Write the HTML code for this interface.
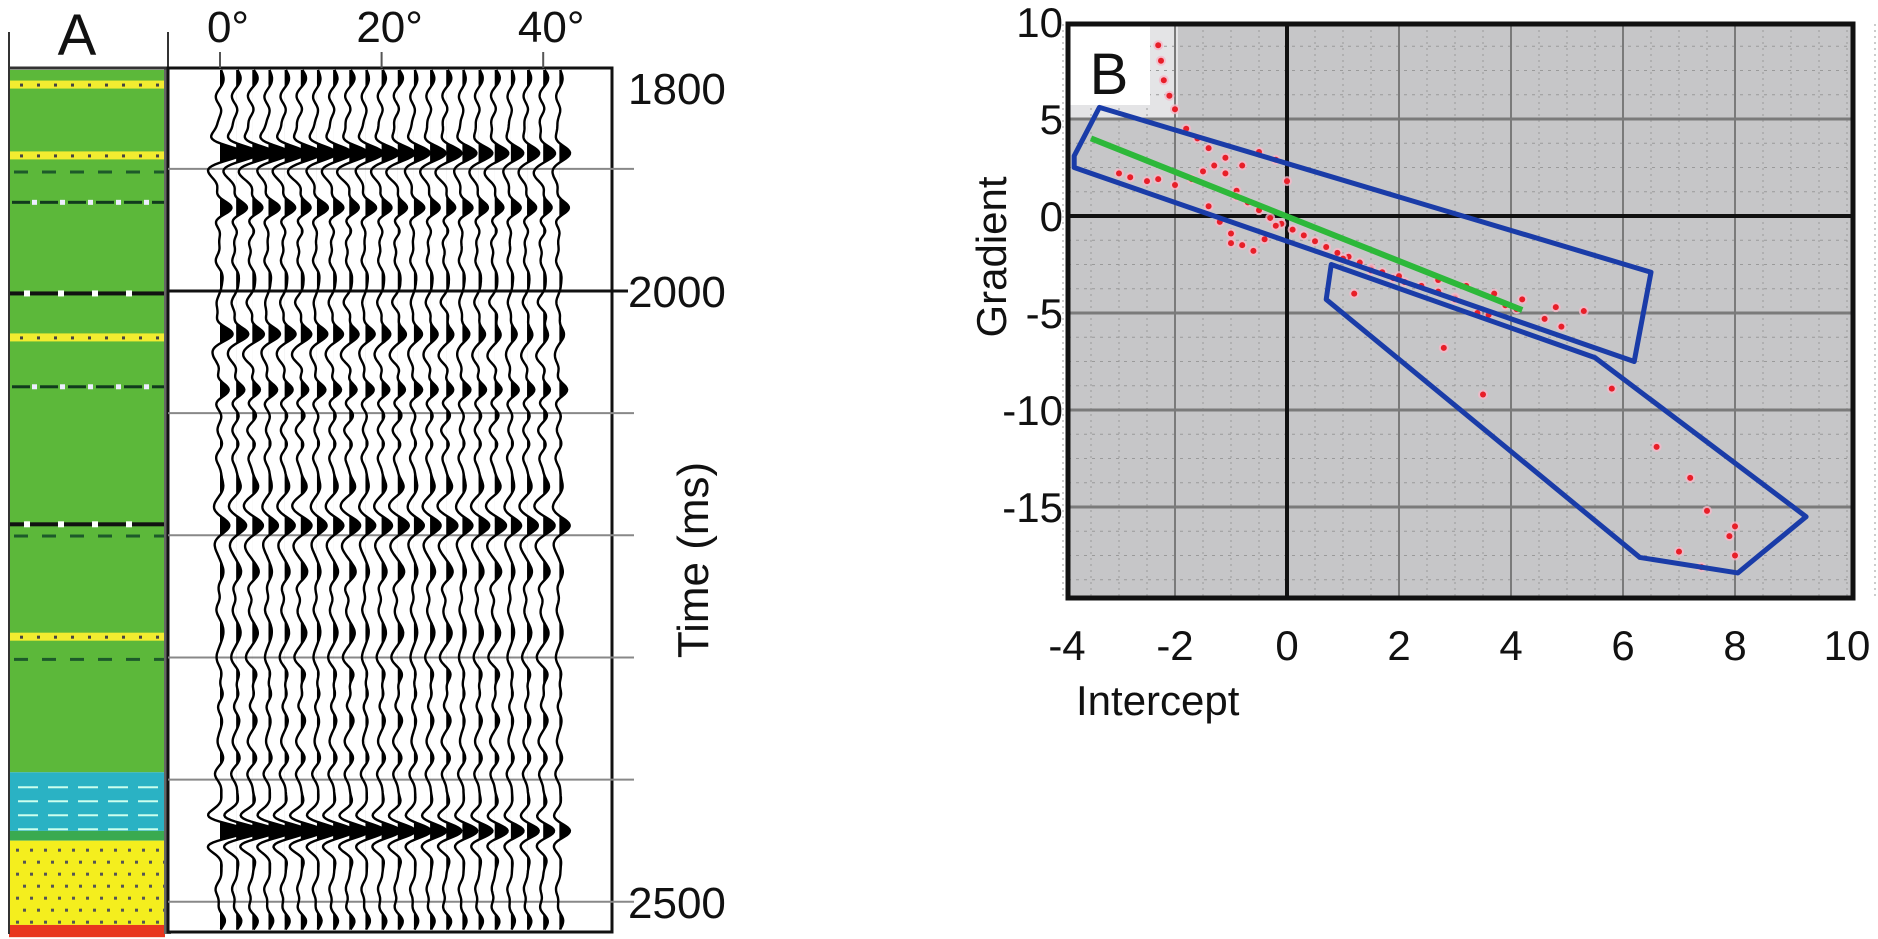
<!DOCTYPE html>
<html><head><meta charset="utf-8">
<style>
html,body{margin:0;padding:0;background:#fff;}
svg{display:block;font-family:"Liberation Sans",Arial,sans-serif;}
</style></head>
<body>
<svg id="fig" width="1878" height="939" viewBox="0 0 1878 939" xmlns="http://www.w3.org/2000/svg">
<g id="panelA"></g>
<g id="panelB"></g>
</svg>
<script>
// ---------- Panel A data ----------
const timeTicks = [1800, 2000, 2500];
const gridTimes = [1900, 2000, 2100, 2200, 2300, 2400, 2500];
const angleTicks = [0, 20, 40];
const traceAngles = [0,2,4,6,8,10,12,14,16,18,20,22,24,26,28,30,32,34,36,38,40,42];
// reflection events: time (ms), near amplitude, far amplitude
const eventTimes = [1842, 1887, 1932, 1975, 2035, 2081, 2136, 2192, 2260, 2330, 2395, 2442, 2490, 2515];
const eventNear  = [-4,    22,   13,   -5,    13,   10,   -4,    8,    -4,   4,    -5,   26,   -5,   4];
const eventFar   = [-3,    10,   11,   -4,    5,    9,    -4,    9,    -3,   3,    -4,   11,   -4,   3];
// weak background reflectivity
const noiseTimes = [1825,1860,1905,1918,1950,1960,2010,2020,2055,2065,2100,2115,2160,2175,2210,2230,2245,2280,2300,2315,2350,2370,2420,2465,2505];
const noiseAmps  = [3,-3,-3,3,3,-3,-3,3,-3,3,3,-3,3,-3,-3,3,-3,3,-3,3,3,-3,3,3,-3];

// lithology bands
const lithTops    = [1819, 2394, 2442, 2450, 2519];
const lithBottoms = [2394, 2442, 2450, 2519, 2529];
const lithColors  = ['#5cb83a','#2ab2c4','#3aaa50','#f4ee1e','#e8361e'];
const dashTimes   = [1831, 1889, 1903, 1927, 2002, 2038, 2078, 2191, 2201, 2283, 2302];
const dashKinds   = ['yellow','yellow','dark','white','black','yellow','white','black','dark','yellow','dark'];

// ---------- Panel B data ----------
const xTicks = [-4,-2,0,2,4,6,8,10];
const yTicks = [10,5,0,-5,-10,-15];
const trendX = [-3.5, 4.2];
const trendY = [4.0, -4.85];
const poly1X = [-3.35, 6.5, 6.2, -3.8, -3.8];
const poly1Y = [5.6, -2.9, -7.5, 2.5, 3.1];
const poly2X = [0.79, 5.5, 9.27, 8.05, 6.3, 0.7];
const poly2Y = [-2.5, -7.3, -15.5, -18.4, -17.6, -4.3];
const ptsX = [-2.3,-2.25,-2.2,-2.1,-2.0,-1.8,-1.6,-1.4,-3.0,-2.8,-2.5,-2.3,-2.0,-1.7,-1.5,-1.3,-1.1,-0.9,-0.7,-0.5,-0.3,-0.1,0.1,0.3,0.5,0.7,0.9,1.1,1.3,1.5,1.7,1.9,2.1,2.4,2.7,3.0,-1.2,-1.0,-0.8,-0.6,-0.4,-0.2,-1.1,-0.8,-0.5,-0.2,0.0,-0.9,-1.4,-1.0,1.0,1.5,2.0,2.7,3.2,3.7,4.2,4.8,3.4,3.6,3.9,4.1,4.6,4.9,2.8,3.0,5.3,5.8,6.6,7.2,7.5,7.9,8.0,8.0,7.0,7.4,1.2,3.5];
const ptsY = [8.8,8.0,7.0,6.2,5.5,4.5,4.0,3.5,2.2,2.0,1.8,1.9,1.6,1.9,2.3,2.6,2.2,1.3,0.7,0.3,-0.1,-0.4,-0.7,-1.0,-1.3,-1.6,-1.9,-2.1,-2.4,-2.7,-2.9,-3.2,-3.4,-3.6,-3.9,-4.2,-0.3,-0.9,-1.5,-1.8,-1.2,-0.5,3.0,2.6,3.3,2.9,1.8,1.0,0.5,-1.4,-2.2,-2.8,-3.1,-3.3,-3.6,-4.0,-4.3,-4.7,-5.0,-5.1,-4.6,-4.8,-5.3,-5.7,-6.8,-4.3,-4.9,-8.9,-11.9,-13.5,-15.2,-16.5,-17.5,-16.0,-17.3,-18.1,-4.0,-9.2];

const NS='http://www.w3.org/2000/svg';
function mk(parent, tag, attrs){
  const e=document.createElementNS(NS,tag);
  for(const k in attrs) e.setAttribute(k, attrs[k]);
  parent.appendChild(e);
  return e;
}
function txt(parent, x, y, s, size, extra){
  const t=mk(parent,'text',Object.assign({x:x,y:y,'font-size':size,fill:'#111'},extra||{}));
  t.textContent=s; return t;
}

// ---------- Panel A ----------
const A=document.getElementById('panelA');
const tY = t => 291 + (t-2000)*1.2215;
const aX = a => 220 + a*8.08;

for(let i=0;i<lithTops.length;i++){
  const r=mk(A,'rect',{x:9,y:tY(lithTops[i]),width:156,height:tY(lithBottoms[i])-tY(lithTops[i]),fill:lithColors[i]});
  
  
}
for(let y=tY(2450)+8;y<tY(2519);y+=12){
  for(let x=16;x<160;x+=14){ const d=mk(A,'rect',{x:x+((Math.round(y)%24<12)?0:7),y:y,width:3,height:3,fill:'#555'});
    
     }
}
for(let y=tY(2394)+14;y<tY(2442);y+=14){
  for(let x=18;x<160;x+=30){ const d=mk(A,'rect',{x:x,y:y,width:20,height:2,fill:'#cfe'});
    
     }
}
for(let i=0;i<dashTimes.length;i++){
  const y=tY(dashTimes[i]); const k=dashKinds[i];
  const g=mk(A,'g',{});
  
  
  if(k==='yellow'){ mk(g,'rect',{x:9,y:y-4,width:156,height:8,fill:'#f2ec30'}); for(let x=20;x<160;x+=17) mk(g,'rect',{x:x,y:y-1,width:3,height:3,fill:'#444'}); }
  else if(k==='dark'){ for(let x=14;x<160;x+=28) mk(g,'rect',{x:x,y:y-2,width:14,height:3,fill:'#1d5a2a'}); }
  else if(k==='white'){ for(let x=12;x<160;x+=28){ mk(g,'rect',{x:x,y:y-1,width:18,height:3,fill:'#113a1d'}); mk(g,'rect',{x:x+20,y:y-2,width:5,height:5,fill:'#eef'});} }
  else { mk(g,'rect',{x:9,y:y-2,width:156,height:4,fill:'#111'}); for(let x=24;x<160;x+=34) mk(g,'rect',{x:x,y:y-3,width:6,height:6,fill:'#fff'}); }
}
mk(A,'rect',{x:164,y:68,width:7,height:866,fill:'#666'});
mk(A,'line',{x1:9,y1:32,x2:9,y2:934,stroke:'#333','stroke-width':2});
mk(A,'line',{x1:168,y1:32,x2:168,y2:68,stroke:'#333','stroke-width':2});
mk(A,'line',{x1:9,y1:68,x2:168,y2:68,stroke:'#333','stroke-width':3});
txt(A,77,55,'A',58,{'text-anchor':'middle'});

const box=mk(A,'rect',{x:168,y:68,width:444,height:864,fill:'#fff',stroke:'#111','stroke-width':3});


gridTimes.forEach(t=>{
  const l=mk(A,'line',{x1:168,y1:tY(t),x2:t===2000?628:634,y2:tY(t),stroke:t===2000?'#111':'#888','stroke-width':t===2000?3:2});
  
  
});
function wavelet(dt){ const s=dt/11; return (1-2*s*s)*Math.exp(-s*s); }
traceAngles.forEach((ang,i)=>{
  const x0=aX(ang); const frac=ang/42;
  let pts=[], fill=[];
  for(let y=70;y<=930;y+=1.5){
    const t=2000+(y-291)/1.2215;
    let v=0;
    for(let k=0;k<eventTimes.length;k++){ const amp=eventNear[k]+(eventFar[k]-eventNear[k])*frac; v+=amp*wavelet(t-eventTimes[k]); }
    for(let k=0;k<noiseTimes.length;k++){ v+=noiseAmps[k]*(((i%3)-1)*0.3+1)*wavelet(t-noiseTimes[k]); }
    pts.push([x0+v,y]); fill.push([x0+Math.max(v,0),y]);
  }
  const f=mk(A,'path',{d:'M'+x0+',70 L'+fill.map(p=>p[0].toFixed(1)+','+p[1]).join(' L')+' L'+x0+',930 Z',fill:'#000'});
  
  
  const p=mk(A,'path',{d:'M'+pts.map(p=>p[0].toFixed(1)+','+p[1]).join(' L'),fill:'none',stroke:'#000','stroke-width':2.4});
  
  
});
angleTicks.forEach(a=>{
  const l=mk(A,'line',{x1:aX(a),y1:52,x2:aX(a),y2:68,stroke:'#555','stroke-width':2});
  
  
  const t=txt(A,aX(a)+8,42,a+'°',44,{'text-anchor':'middle'});
  
  
});
timeTicks.forEach(tm=>{
  const y = tm===1800 ? 104 : tY(tm)+16;
  const t=txt(A,628,y,String(tm),44,{});
  
  
});
const tt=txt(A,0,0,'Time (ms)',44,{'text-anchor':'middle',transform:'translate(708,560) rotate(-90)'});



// ---------- Panel B ----------
const B=document.getElementById('panelB');
const bx = v => 1287 + v*56;
const by = v => 216 - v*19.4;
const L=1068, R=1853, T=24, Bo=598;
const pa=mk(B,'rect',{x:L,y:T,width:R-L,height:Bo-T,fill:'#c6c6c8'});


mk(B,'rect',{x:L,y:T,width:110,height:by(5)-T,fill:'#e4e4e6'});
for(let v=-4;v<=10.5;v+=0.5){ const l=mk(B,'line',{x1:bx(v),y1:T,x2:bx(v),y2:Bo,stroke:'#9a9a9a','stroke-width':1,'stroke-dasharray':'2 4'});
  
   }
for(let v=10;v>=-19.5;v-=1.25){ const l=mk(B,'line',{x1:L,y1:by(v),x2:R,y2:by(v),stroke:'#9a9a9a','stroke-width':1,'stroke-dasharray':'3 5'});
  
   }
xTicks.forEach(v=>{ if(v!==0&&v>-4&&v<10){ const l=mk(B,'line',{x1:bx(v),y1:T,x2:bx(v),y2:Bo,stroke:'#7a7a7a','stroke-width':2});
  
   }});
yTicks.forEach(v=>{ if(v!==0&&v<10){ const l=mk(B,'line',{x1:L,y1:by(v),x2:R,y2:by(v),stroke:'#7a7a7a','stroke-width':3});
  
   }});
mk(B,'rect',{x:L,y:T,width:82,height:81,fill:'#fff'});
txt(B,1109,94,'B',58,{'text-anchor':'middle'});
const zx=mk(B,'line',{x1:bx(0),y1:T,x2:bx(0),y2:Bo,stroke:'#111','stroke-width':4});


const zy=mk(B,'line',{x1:L,y1:by(0),x2:R,y2:by(0),stroke:'#111','stroke-width':4});


for(let i=0;i<ptsX.length;i++){
  const halo=mk(B,'circle',{cx:bx(ptsX[i]),cy:by(ptsY[i]),r:5,fill:'#f5b8c8',opacity:0.8});
  
  
  const c=mk(B,'circle',{cx:bx(ptsX[i]),cy:by(ptsY[i]),r:3,fill:'#e81e28'});
  
  
}
const tl=mk(B,'line',{x1:bx(trendX[0]),y1:by(trendY[0]),x2:bx(trendX[1]),y2:by(trendY[1]),stroke:'#2db83a','stroke-width':6});


const pg1=mk(B,'polygon',{points:poly1X.map((x,i)=>bx(x)+','+by(poly1Y[i])).join(' '),fill:'none',stroke:'#1a3ca8','stroke-width':5,'stroke-linejoin':'round'});


const pg2=mk(B,'polygon',{points:poly2X.map((x,i)=>bx(x)+','+by(poly2Y[i])).join(' '),fill:'none',stroke:'#1a3ca8','stroke-width':5,'stroke-linejoin':'round'});


const fr=mk(B,'rect',{x:L,y:T,width:R-L,height:Bo-T,fill:'none',stroke:'#111','stroke-width':5});


xTicks.forEach(v=>{
  const t=txt(B,bx(v)+(v===-4?4:0),660,String(v),42,{'text-anchor':'middle'});
  
  
});
yTicks.forEach(v=>{
  const t=txt(B,1063,by(v)+15,String(v),42,{'text-anchor':'end'});
  
  
});
const xt=txt(B,1076,715,'Intercept',42,{});


const yt=txt(B,0,0,'Gradient',42,{'text-anchor':'middle',transform:'translate(1006,257) rotate(-90)'});


</script>
</body></html>
